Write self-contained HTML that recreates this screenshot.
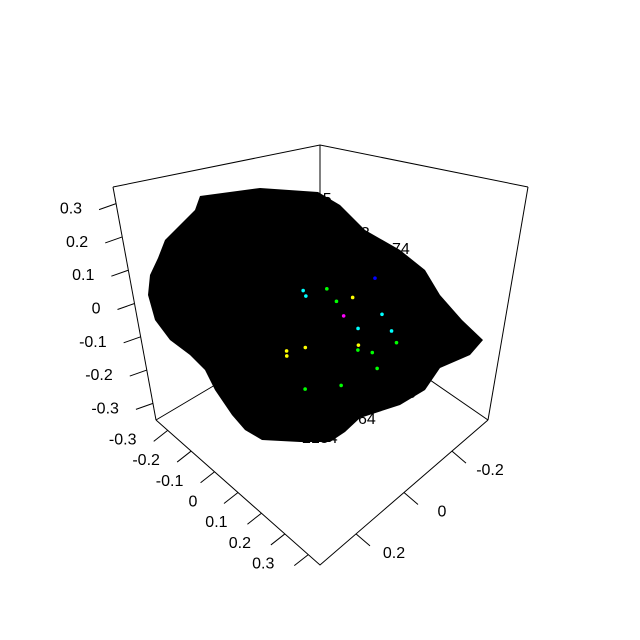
<!DOCTYPE html>
<html><head><meta charset="utf-8"><style>
html,body{margin:0;padding:0;background:#fff;}
svg{display:block;font-family:"Liberation Sans",sans-serif;}
</style></head><body>
<svg id="chart" width="640" height="640" viewBox="0 0 640 640">
<g id="box" stroke="#000" stroke-width="1" fill="none">
 <polyline points="113,187 320,145 528,187"/>
 <line x1="320" y1="145" x2="320" y2="300"/>
 <line x1="113" y1="187" x2="156" y2="420"/>
 <line x1="528" y1="187" x2="488" y2="420"/>
 <polyline points="156,420 320,565 488,420"/>
 <line x1="156" y1="420" x2="215" y2="385"/>
 <line x1="488" y1="420" x2="430" y2="380"/>
</g>
<g id="axes" font-size="16" fill="#000"></g>
<path d="M200,196 L260,188 L318,192 L340,205 L365,230 L400,250 L425,270 L440,295 L462,320 L483,340 L470,355 L440,368 L425,390 L400,405 L360,418 L345,432 L330,442 L300,442 L262,440 L245,430 L232,415 L215,390 L205,370 L190,355 L170,340 L155,320 L148,295 L150,275 L158,258 L165,240 L180,225 L195,210 Z" fill="#000"/>
<g font-size="16" fill="#000">
 <text x="305" y="204">305</text><text x="326" y="222">66</text>
 <text x="352" y="238">63</text><text x="392" y="254">74</text>
 <text x="422" y="312">50</text><text x="462" y="344">1</text>
 <text x="408" y="386">76</text><text x="398" y="398">56</text>
 <text x="372" y="402">12</text><text x="358" y="424">64</text>
 <text x="302" y="443">2184</text>
</g>
<g id="points"></g>
</svg>
<script>
// z-axis ticks (left vertical edge)
const zTicks=[0.3,0.2,0.1,0,-0.1,-0.2,-0.3];
const zLabels=["0.3","0.2","0.1","0","-0.1","-0.2","-0.3"];
// x-axis ticks (front-left bottom edge)
const xTicks=[-0.3,-0.2,-0.1,0,0.1,0.2,0.3];
const xLabels=["-0.3","-0.2","-0.1","0","0.1","0.2","0.3"];
// y-axis ticks (front-right bottom edge)
const yTicks=[-0.2,0,0.2];
const yLabels=["-0.2","0","0.2"];
// highlighted coloured points
const ptX=[-0.05,0.02,0.03,-0.08,0.04,0.06,0.1,0.12,0.1,0.08,0.11,0.02,0.0,0.05,-0.02,0.1,-0.12,-0.1,0.07,0.12];
const ptY=[0.02,0.05,0.08,0.06,0.1,0.14,0.2,0.22,0.16,0.12,0.25,0.18,-0.02,0.08,0.0,0.18,0.02,0.0,0.2,0.06];
const ptZ=[0.12,0.15,0.1,0.06,0.05,0.0,0.03,-0.02,-0.06,-0.04,-0.08,-0.1,-0.12,-0.14,-0.02,-0.12,-0.12,-0.08,0.12,0.18];
const ptCol=["#00ffff","#00ff00","#00ff00","#00ffff","#ff00ff","#00ffff","#00ffff","#00ffff","#00ff00","#00ff00","#00ff00","#ffff00","#00ff00","#00ff00","#ffff00","#00ff00","#ffff00","#ffff00","#0000ff","#ffff00"];
const NS="http://www.w3.org/2000/svg";
const axes=document.getElementById('axes');
function zPos(v){const t=(0.35-v)/0.7;return [113+43*t,187+233*t];}
function xPos(v){const t=(v+0.35)/0.7;return [156+164*t,420+145*t];}
function yPos(v){const t=(v+0.35)/0.7;return [488-168*t,420+145*t];}
function proj(x,y,z){return [310+234*x+243*y, 345+207*x-207*y-333*z];}
function line(x1,y1,x2,y2,name){const l=document.createElementNS(NS,'line');
l.setAttribute('x1',x1);l.setAttribute('y1',y1);l.setAttribute('x2',x2);l.setAttribute('y2',y2);l.setAttribute('stroke','#000');


axes.appendChild(l);}
function text(x,y,s,anchor,name){const t=document.createElementNS(NS,'text');
t.setAttribute('x',x);t.setAttribute('y',y);t.setAttribute('text-anchor',anchor);t.textContent=s;


axes.appendChild(t);}
zTicks.forEach((v,i)=>{const [x,y]=zPos(v);line(x,y,x-17,y+6,'z-tick');text(x-34,y+10,zLabels[i],'end','z-tick-label');});
xTicks.forEach((v,i)=>{const [x,y]=xPos(v);line(x,y,x-14,y+11,'x-tick');text(x-45,y+14,xLabels[i],'middle','x-tick-label');});
yTicks.forEach((v,i)=>{const [x,y]=yPos(v);line(x,y,x+14,y+12,'y-tick');text(x+38,y+24,yLabels[i],'middle','y-tick-label');});
const pg=document.getElementById('points');
ptX.forEach((v,i)=>{const [x,y]=proj(v,ptY[i],ptZ[i]);const c=document.createElementNS(NS,'circle');
c.setAttribute('cx',x);c.setAttribute('cy',y);c.setAttribute('r',1.8);c.setAttribute('fill',ptCol[i]);


pg.appendChild(c);});
</script>
</body></html>
